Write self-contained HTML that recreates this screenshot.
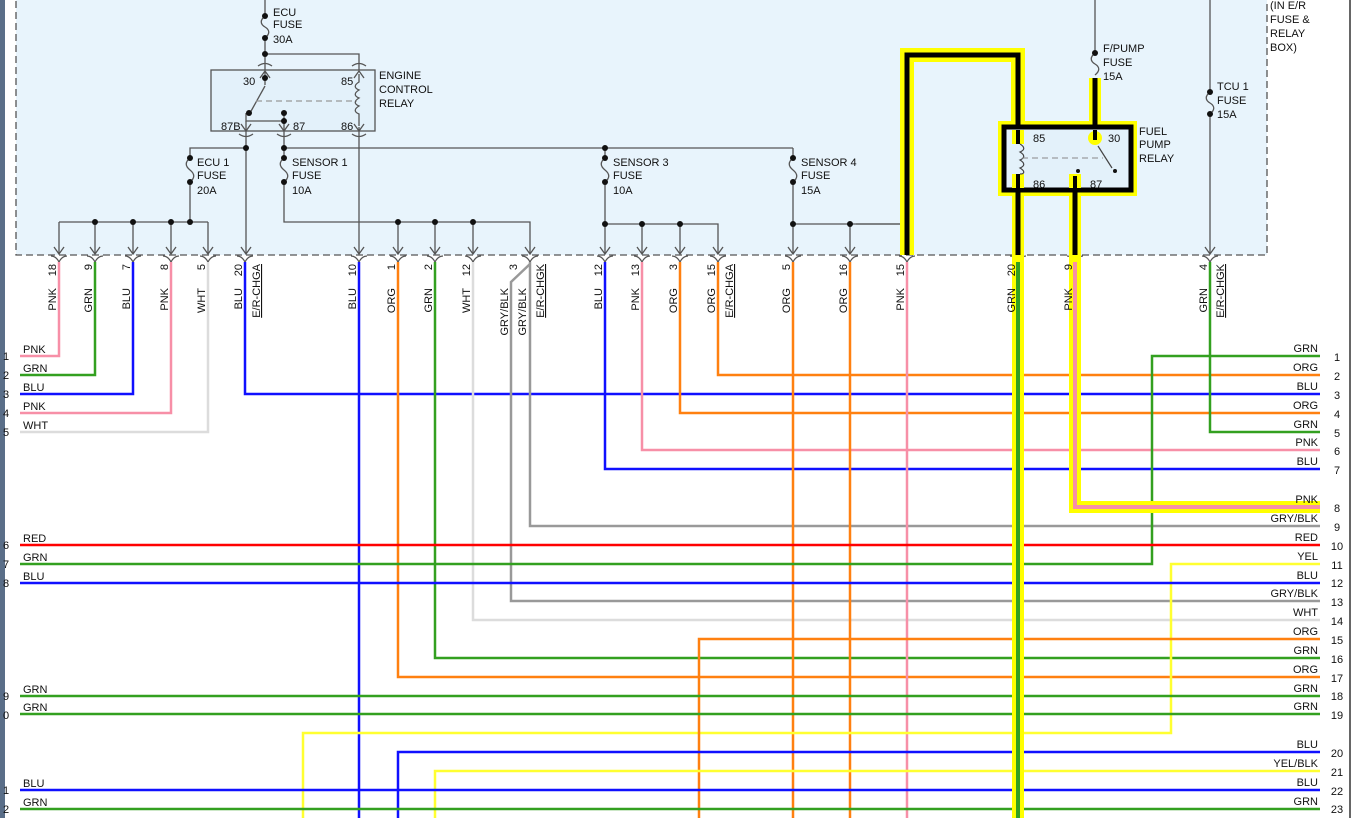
<!DOCTYPE html>
<html><head><meta charset="utf-8"><style>
html,body{margin:0;padding:0;background:#fff;}
svg{display:block;font-family:"Liberation Sans",sans-serif;font-size:11px;}
</style></head><body>
<svg width="1355" height="818" viewBox="0 0 1355 818" xmlns="http://www.w3.org/2000/svg">
<rect x="0" y="0" width="1355" height="818" fill="#fff"/>
<rect x="0" y="0" width="5" height="818" fill="#5a6e88"/>
<line x1="1350" y1="0" x2="1350" y2="818" stroke="#333" stroke-width="1.5"/>
<!-- box -->
<rect x="16" y="-10" width="1251" height="265" fill="#e8f4fc" stroke="#555" stroke-width="1.3" stroke-dasharray="7,4"/>
<text x="1270" y="9" fill="#111">(IN E/R</text>
<text x="1270" y="23" fill="#111">FUSE &amp;</text>
<text x="1270" y="37" fill="#111">RELAY</text>
<text x="1270" y="51" fill="#111">BOX)</text>

<g stroke="#555" stroke-width="1.3" fill="none">
<line x1="265" y1="0" x2="265" y2="16"/>
<path d="M265 16 c-5 4,-5 8,0 11 c5 3,5 7,0 11"/>
<line x1="265" y1="38" x2="265" y2="70"/>
<polyline points="265,54 359,54 359,70"/>
<rect x="211" y="70" width="164" height="61" fill="#e3f1fa"/>
<path d="M359 74 v8 c-5 3,-5 6,0 8 c-5 3,-5 6,0 8 c-5 3,-5 6,0 8 c-5 3,-5 6,0 8 v12"/>
<line x1="265" y1="72" x2="265" y2="85"/>
<line x1="265" y1="86" x2="250" y2="113"/>
<line x1="256" y1="101" x2="357" y2="101" stroke="#999" stroke-dasharray="6,4"/>
<polyline points="246,113 246,121 284,121"/>
<line x1="246" y1="121" x2="246" y2="131"/>
<line x1="284" y1="113" x2="284" y2="131"/>
<line x1="359" y1="127" x2="359" y2="131"/>
<line x1="246" y1="131" x2="246" y2="254"/>
<polyline points="246,148 190,148 190,158"/>
<path d="M190 158 c-5 4,-5 8,0 12 c5 4,5 8,0 12"/>
<line x1="190" y1="182" x2="190" y2="222"/>
<line x1="59" y1="222" x2="208" y2="222"/>
<line x1="59" y1="222" x2="59" y2="254"/>
<line x1="95" y1="222" x2="95" y2="254"/>
<line x1="133" y1="222" x2="133" y2="254"/>
<line x1="171" y1="222" x2="171" y2="254"/>
<line x1="208" y1="222" x2="208" y2="254"/>
<line x1="284" y1="131" x2="284" y2="158"/>
<line x1="284" y1="148" x2="793" y2="148"/>
<path d="M284 158 c-5 4,-5 8,0 12 c5 4,5 8,0 12"/>
<polyline points="284,182 284,222 530,222 530,254"/>
<line x1="359" y1="131" x2="359" y2="254"/>
<line x1="398" y1="222" x2="398" y2="254"/>
<line x1="435" y1="222" x2="435" y2="254"/>
<line x1="473" y1="222" x2="473" y2="254"/>
<line x1="605" y1="148" x2="605" y2="158"/>
<path d="M605 158 c-5 4,-5 8,0 12 c5 4,5 8,0 12"/>
<line x1="605" y1="182" x2="605" y2="254"/>
<polyline points="605,224 718,224 718,254"/>
<line x1="642" y1="224" x2="642" y2="254"/>
<line x1="680" y1="224" x2="680" y2="254"/>
<line x1="793" y1="148" x2="793" y2="158"/>
<path d="M793 158 c-5 4,-5 8,0 12 c5 4,5 8,0 12"/>
<line x1="793" y1="182" x2="793" y2="254"/>
<line x1="793" y1="224" x2="905" y2="224"/>
<line x1="850" y1="224" x2="850" y2="254"/>
<line x1="1095" y1="0" x2="1095" y2="53"/>
<path d="M1095 53 c-5 4,-5 8,0 11 c5 3,5 7,0 11"/>
<line x1="1210" y1="0" x2="1210" y2="92"/>
<path d="M1210 92 c-5 4,-5 8,0 11 c5 3,5 7,0 11"/>
<line x1="1210" y1="114" x2="1210" y2="254"/>
<path d="M54 247 l5 7 l5 -7 M90 247 l5 7 l5 -7 M128 247 l5 7 l5 -7 M166 247 l5 7 l5 -7 M203 247 l5 7 l5 -7 M241 247 l5 7 l5 -7 M354 247 l5 7 l5 -7 M393 247 l5 7 l5 -7 M430 247 l5 7 l5 -7 M468 247 l5 7 l5 -7 M525 247 l5 7 l5 -7 M600 247 l5 7 l5 -7 M637 247 l5 7 l5 -7 M675 247 l5 7 l5 -7 M713 247 l5 7 l5 -7 M788 247 l5 7 l5 -7 M845 247 l5 7 l5 -7 M1205 247 l5 7 l5 -7"/>
<path d="M260 78 l5 -7 l5 7 M354 78 l5 -7 l5 7 M241 124 l5 7 l5 -7 M279 124 l5 7 l5 -7 M354 124 l5 7 l5 -7"/>
<path d="M258 66 q7 -5 14 0 M352 66 q7 -5 14 0 M239 134 q7 5 14 0 M277 134 q7 5 14 0 M352 134 q7 5 14 0"/>
<path d="M51 256 q5 0 8 6 q3 -6 8 -6 M87 256 q5 0 8 6 q3 -6 8 -6 M125 256 q5 0 8 6 q3 -6 8 -6 M163 256 q5 0 8 6 q3 -6 8 -6 M200 256 q5 0 8 6 q3 -6 8 -6 M237 256 q5 0 8 6 q3 -6 8 -6 M351 256 q5 0 8 6 q3 -6 8 -6 M390 256 q5 0 8 6 q3 -6 8 -6 M427 256 q5 0 8 6 q3 -6 8 -6 M465 256 q5 0 8 6 q3 -6 8 -6 M522 256 q5 0 8 6 q3 -6 8 -6 M597 256 q5 0 8 6 q3 -6 8 -6 M634 256 q5 0 8 6 q3 -6 8 -6 M672 256 q5 0 8 6 q3 -6 8 -6 M710 256 q5 0 8 6 q3 -6 8 -6 M785 256 q5 0 8 6 q3 -6 8 -6 M842 256 q5 0 8 6 q3 -6 8 -6 M899 256 q5 0 8 6 q3 -6 8 -6 M1010 256 q5 0 8 6 q3 -6 8 -6 M1067 256 q5 0 8 6 q3 -6 8 -6 M1202 256 q5 0 8 6 q3 -6 8 -6"/>
</g>
<g fill="#111">
<circle cx="265" cy="16" r="3"/><circle cx="265" cy="38" r="3"/><circle cx="265" cy="54" r="3"/>
<circle cx="265" cy="78" r="3"/><circle cx="249" cy="113" r="3"/><circle cx="284" cy="113" r="3"/><circle cx="284" cy="121" r="3"/>
<circle cx="246" cy="148" r="3"/><circle cx="190" cy="158" r="3"/><circle cx="190" cy="182" r="3"/><circle cx="190" cy="222" r="3"/>
<circle cx="95" cy="222" r="3"/><circle cx="133" cy="222" r="3"/><circle cx="171" cy="222" r="3"/>
<circle cx="284" cy="148" r="3"/><circle cx="284" cy="158" r="3"/><circle cx="284" cy="182" r="3"/>
<circle cx="398" cy="222" r="3"/><circle cx="435" cy="222" r="3"/><circle cx="473" cy="222" r="3"/>
<circle cx="605" cy="148" r="3"/><circle cx="605" cy="158" r="3"/><circle cx="605" cy="182" r="3"/><circle cx="605" cy="224" r="3"/><circle cx="642" cy="224" r="3"/><circle cx="680" cy="224" r="3"/>
<circle cx="793" cy="158" r="3"/><circle cx="793" cy="182" r="3"/><circle cx="793" cy="224" r="3"/><circle cx="850" cy="224" r="3"/>
<circle cx="1095" cy="53" r="3"/><circle cx="1210" cy="92" r="3"/><circle cx="1210" cy="114" r="3"/>
<text x="273" y="16">ECU</text><text x="273" y="28">FUSE</text><text x="273" y="43">30A</text>
<text x="379" y="79">ENGINE</text><text x="379" y="93">CONTROL</text><text x="379" y="107">RELAY</text>
<text x="243" y="85">30</text><text x="341" y="85">85</text><text x="221" y="130">87B</text><text x="293" y="130">87</text><text x="341" y="130">86</text>
<text x="197" y="166">ECU 1</text><text x="197" y="179">FUSE</text><text x="197" y="194">20A</text>
<text x="292" y="166">SENSOR 1</text><text x="292" y="179">FUSE</text><text x="292" y="194">10A</text>
<text x="613" y="166">SENSOR 3</text><text x="613" y="179">FUSE</text><text x="613" y="194">10A</text>
<text x="801" y="166">SENSOR 4</text><text x="801" y="179">FUSE</text><text x="801" y="194">15A</text>
<text x="1103" y="52">F/PUMP</text><text x="1103" y="66">FUSE</text><text x="1103" y="80">15A</text>
<text x="1217" y="90">TCU 1</text><text x="1217" y="104">FUSE</text><text x="1217" y="118">15A</text>
</g>

<g fill="none" stroke-width="2.5">
<polyline stroke="#f78fa7" points="59,262 59,356 20,356"/>
<polyline stroke="#33a020" points="95,262 95,375 20,375"/>
<polyline stroke="#1010ff" points="133,262 133,394 20,394"/>
<polyline stroke="#f78fa7" points="171,262 171,413 20,413"/>
<polyline stroke="#dcdcdc" points="208,262 208,432 20,432"/>
<polyline stroke="#1010ff" points="245,262 245,394 1320,394"/>
<polyline stroke="#1010ff" points="359,262 359,818"/>
<polyline stroke="#ff8010" points="398,262 398,677 1320,677"/>
<polyline stroke="#33a020" points="435,262 435,658 1320,658"/>
<polyline stroke="#dcdcdc" points="473,262 473,620 1320,620"/>
<polyline stroke="#999" points="530,264 511,282 511,601 1320,601"/>
<polyline stroke="#999" points="530,262 530,526 1320,526"/>
<polyline stroke="#1010ff" points="605,262 605,469 1320,469"/>
<polyline stroke="#f78fa7" points="642,262 642,450 1320,450"/>
<polyline stroke="#ff8010" points="680,262 680,413 1320,413"/>
<polyline stroke="#ff8010" points="718,262 718,375 1320,375"/>
<polyline stroke="#ff8010" points="793,262 793,818"/>
<polyline stroke="#ff8010" points="850,262 850,818"/>
<polyline stroke="#f78fa7" points="907,262 907,818"/>
<polyline stroke="#33a020" points="1210,262 1210,432 1320,432"/>
<polyline stroke="#33a020" points="1320,356 1152,356 1152,564 20,564"/>
<polyline stroke="#ff0000" points="20,545 1320,545"/>
<polyline stroke="#ffff30" points="1320,564 1171,564 1171,733 303,733 303,818"/>
<polyline stroke="#1010ff" points="20,583 1320,583"/>
<polyline stroke="#ff8010" points="1320,639 699,639 699,818"/>
<polyline stroke="#33a020" points="20,696 1320,696"/>
<polyline stroke="#33a020" points="20,714 1320,714"/>
<polyline stroke="#1010ff" points="1320,752 398,752 398,818"/>
<polyline stroke="#ffff30" points="1320,771 435,771 435,818"/>
<polyline stroke="#1010ff" points="20,790 1320,790"/>
<polyline stroke="#33a020" points="20,809 1320,809"/>
</g>

<g fill="none" stroke-linejoin="miter">
<polyline stroke="#ffff00" stroke-width="14" points="907,255 907,55 1018,55 1018,125"/>
<line stroke="#ffff00" stroke-width="12" x1="1095" y1="78" x2="1095" y2="125"/>
<rect x="1004" y="127" width="127" height="63" stroke="#ffff00" stroke-width="12"/>
<line stroke="#ffff00" stroke-width="12" x1="1018" y1="190" x2="1018" y2="818"/>
<polyline stroke="#ffff00" stroke-width="12" points="1075,190 1075,507 1320,507"/>
<polyline stroke="#000" stroke-width="5" points="907,255 907,55 1018,55 1018,125"/>
<line stroke="#000" stroke-width="5" x1="1095" y1="78" x2="1095" y2="125"/>
<rect x="1004" y="127" width="127" height="63" stroke="#000" stroke-width="5" fill="#e3f1fa"/>
<line stroke="#000" stroke-width="5" x1="1018" y1="190" x2="1018" y2="255"/>
<line stroke="#000" stroke-width="5" x1="1075" y1="190" x2="1075" y2="255"/>
<line stroke="#33a020" stroke-width="4" x1="1018" y1="262" x2="1018" y2="818"/>
<polyline stroke="#f78fa7" stroke-width="4" points="1075,262 1075,507 1320,507"/>
<rect x="1012" y="130" width="12" height="14" fill="#ffff00" stroke="none"/>
<rect x="1012" y="174" width="12" height="14" fill="#ffff00" stroke="none"/>
<rect x="1069" y="174" width="12" height="14" fill="#ffff00" stroke="none"/>
<circle cx="1095" cy="138" r="7" fill="#ffff00" stroke="none"/>
<line stroke="#000" stroke-width="4" x1="1018" y1="130" x2="1018" y2="144"/>
<line stroke="#000" stroke-width="4" x1="1018" y1="174" x2="1018" y2="188"/>
<line stroke="#000" stroke-width="4" x1="1075" y1="176" x2="1075" y2="188"/>
<line stroke="#000" stroke-width="4" x1="1095" y1="130" x2="1095" y2="140"/>
<path stroke="#444" stroke-width="1.2" d="M1020 144 c5 3,5 6,0 8 c5 3,5 6,0 8 c5 3,5 6,0 8 c5 3,5 6,0 6"/>
<line stroke="#888" stroke-width="1" stroke-dasharray="6,4" x1="1022" y1="158" x2="1103" y2="158"/>
<line stroke="#444" stroke-width="1.2" x1="1098" y1="146" x2="1112" y2="168"/>
</g>
<circle cx="1115" cy="171" r="2" fill="#111"/><circle cx="1078" cy="171" r="2" fill="#111"/>
<g fill="#111"><text x="1033" y="142">85</text><text x="1108" y="142">30</text><text x="1033" y="188">86</text><text x="1090" y="188">87</text>
<text x="1139" y="135">FUEL</text><text x="1139" y="148">PUMP</text><text x="1139" y="162">RELAY</text></g>
<line x1="856" y1="224" x2="900" y2="224" stroke="#555" stroke-width="1.3"/>

<g fill="#111">
<text transform="translate(56,264) rotate(-90)" text-anchor="end">18</text><text transform="translate(56,288) rotate(-90)" text-anchor="end">PNK</text>
<text transform="translate(92,264) rotate(-90)" text-anchor="end">9</text><text transform="translate(92,288) rotate(-90)" text-anchor="end">GRN</text>
<text transform="translate(130,264) rotate(-90)" text-anchor="end">7</text><text transform="translate(130,288) rotate(-90)" text-anchor="end">BLU</text>
<text transform="translate(168,264) rotate(-90)" text-anchor="end">8</text><text transform="translate(168,288) rotate(-90)" text-anchor="end">PNK</text>
<text transform="translate(205,264) rotate(-90)" text-anchor="end">5</text><text transform="translate(205,288) rotate(-90)" text-anchor="end">WHT</text>
<text transform="translate(242,264) rotate(-90)" text-anchor="end">20</text><text transform="translate(242,288) rotate(-90)" text-anchor="end">BLU</text>
<text transform="translate(260,264) rotate(-90)" text-anchor="end" text-decoration="underline">E/R-CHGA</text>
<text transform="translate(356,264) rotate(-90)" text-anchor="end">10</text><text transform="translate(356,288) rotate(-90)" text-anchor="end">BLU</text>
<text transform="translate(395,264) rotate(-90)" text-anchor="end">1</text><text transform="translate(395,288) rotate(-90)" text-anchor="end">ORG</text>
<text transform="translate(432,264) rotate(-90)" text-anchor="end">2</text><text transform="translate(432,288) rotate(-90)" text-anchor="end">GRN</text>
<text transform="translate(470,264) rotate(-90)" text-anchor="end">12</text><text transform="translate(470,288) rotate(-90)" text-anchor="end">WHT</text>
<text transform="translate(508,288) rotate(-90)" text-anchor="end">GRY/BLK</text>
<text transform="translate(517,264) rotate(-90)" text-anchor="end">3</text><text transform="translate(526,288) rotate(-90)" text-anchor="end">GRY/BLK</text>
<text transform="translate(544,264) rotate(-90)" text-anchor="end" text-decoration="underline">E/R-CHGK</text>
<text transform="translate(602,264) rotate(-90)" text-anchor="end">12</text><text transform="translate(602,288) rotate(-90)" text-anchor="end">BLU</text>
<text transform="translate(639,264) rotate(-90)" text-anchor="end">13</text><text transform="translate(639,288) rotate(-90)" text-anchor="end">PNK</text>
<text transform="translate(677,264) rotate(-90)" text-anchor="end">3</text><text transform="translate(677,288) rotate(-90)" text-anchor="end">ORG</text>
<text transform="translate(715,264) rotate(-90)" text-anchor="end">15</text><text transform="translate(715,288) rotate(-90)" text-anchor="end">ORG</text>
<text transform="translate(733,264) rotate(-90)" text-anchor="end" text-decoration="underline">E/R-CHGA</text>
<text transform="translate(790,264) rotate(-90)" text-anchor="end">5</text><text transform="translate(790,288) rotate(-90)" text-anchor="end">ORG</text>
<text transform="translate(847,264) rotate(-90)" text-anchor="end">16</text><text transform="translate(847,288) rotate(-90)" text-anchor="end">ORG</text>
<text transform="translate(904,264) rotate(-90)" text-anchor="end">15</text><text transform="translate(904,288) rotate(-90)" text-anchor="end">PNK</text>
<text transform="translate(1015,264) rotate(-90)" text-anchor="end">20</text><text transform="translate(1015,288) rotate(-90)" text-anchor="end">GRN</text>
<text transform="translate(1072,264) rotate(-90)" text-anchor="end">9</text><text transform="translate(1072,288) rotate(-90)" text-anchor="end">PNK</text>
<text transform="translate(1207,264) rotate(-90)" text-anchor="end">4</text><text transform="translate(1207,288) rotate(-90)" text-anchor="end">GRN</text>
<text transform="translate(1224,264) rotate(-90)" text-anchor="end" text-decoration="underline">E/R-CHGK</text>
</g>

<g fill="#111">
<text x="23" y="353">PNK</text><text x="23" y="372">GRN</text><text x="23" y="391">BLU</text><text x="23" y="410">PNK</text><text x="23" y="429">WHT</text>
<text x="23" y="542">RED</text><text x="23" y="561">GRN</text><text x="23" y="580">BLU</text>
<text x="23" y="693">GRN</text><text x="23" y="711">GRN</text><text x="23" y="787">BLU</text><text x="23" y="806">GRN</text>
<text x="3" y="360">1</text><text x="3" y="379">2</text><text x="3" y="398">3</text><text x="3" y="417">4</text><text x="3" y="436">5</text>
<text x="3" y="549">6</text><text x="3" y="568">7</text><text x="3" y="587">8</text><text x="3" y="700">9</text><text x="3" y="719">0</text><text x="3" y="794">1</text><text x="3" y="813">2</text>
</g>
<g fill="#111" text-anchor="end">
<text x="1318" y="352">GRN</text><text x="1318" y="371">ORG</text><text x="1318" y="390">BLU</text><text x="1318" y="409">ORG</text><text x="1318" y="428">GRN</text>
<text x="1318" y="446">PNK</text><text x="1318" y="465">BLU</text><text x="1318" y="503">PNK</text><text x="1318" y="522">GRY/BLK</text><text x="1318" y="541">RED</text>
<text x="1318" y="560">YEL</text><text x="1318" y="579">BLU</text><text x="1318" y="597">GRY/BLK</text><text x="1318" y="616">WHT</text><text x="1318" y="635">ORG</text>
<text x="1318" y="654">GRN</text><text x="1318" y="673">ORG</text><text x="1318" y="692">GRN</text><text x="1318" y="710">GRN</text><text x="1318" y="748">BLU</text>
<text x="1318" y="767">YEL/BLK</text><text x="1318" y="786">BLU</text><text x="1318" y="805">GRN</text>
</g>
<g fill="#111" text-anchor="middle">
<text x="1337" y="361">1</text><text x="1337" y="380">2</text><text x="1337" y="399">3</text><text x="1337" y="418">4</text><text x="1337" y="437">5</text>
<text x="1337" y="455">6</text><text x="1337" y="474">7</text><text x="1337" y="512">8</text><text x="1337" y="531">9</text><text x="1337" y="550">10</text>
<text x="1337" y="569">11</text><text x="1337" y="587">12</text><text x="1337" y="606">13</text><text x="1337" y="625">14</text><text x="1337" y="644">15</text>
<text x="1337" y="663">16</text><text x="1337" y="682">17</text><text x="1337" y="700">18</text><text x="1337" y="719">19</text><text x="1337" y="757">20</text>
<text x="1337" y="776">21</text><text x="1337" y="795">22</text><text x="1337" y="813">23</text>
</g>
</svg>
</body></html>
